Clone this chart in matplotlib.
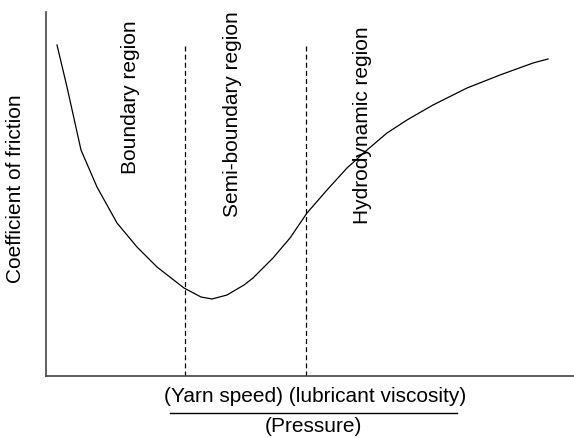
import matplotlib.pyplot as plt

plt.rcParams['font.family'] = ['Liberation Sans', 'DejaVu Sans']

# Stribeck-type friction curve (arbitrary units)
curve_x = [11, 21, 35, 51, 71, 91, 111, 138, 155, 166, 181, 198, 207,
           227, 244, 261, 281, 301, 321, 341, 361, 387, 421, 454, 487, 502]
curve_y = [331, 289, 226, 189, 153, 129, 109, 88, 79, 77, 81, 91, 98,
           118, 138, 163, 186, 208, 226, 243, 256, 271, 288, 301, 313, 317]

boundaries = [139, 260]
region_labels = ["Boundary region", "Semi-boundary region", "Hydrodynamic region"]
label_x = [84, 187, 316]
label_top = [356, 365, 350]

fig = plt.figure(figsize=(5.74, 4.38), dpi=100)
ax = fig.add_axes([46 / 574, 62 / 438, 1 - 46 / 574, (376 - 12) / 438])
ax.set_xlim(0, 528)
ax.set_ylim(0, 364)

ax.plot(curve_x, curve_y, color='black', lw=0.9, solid_joinstyle='round')
for b in boundaries:
    ax.plot([b, b], [0, 332], color='black', lw=0.9, ls=(0, (4, 2.5)))

for txt, x, y in zip(region_labels, label_x, label_top):
    ax.text(x, y, txt, rotation=90, ha='center', va='top', fontsize=15)

for side in ['top', 'right']:
    ax.spines[side].set_visible(False)
for side in ['left', 'bottom']:
    ax.spines[side].set_color('#444444')
    ax.spines[side].set_linewidth(1.2)
ax.set_xticks([])
ax.set_yticks([])

fig.text(16 / 574, 1 - 189 / 438, "Coefficient of friction", rotation=90,
         ha='center', va='center', fontsize=15)

# fraction-style x label
fig.text(315 / 574, 1 - 396 / 438, "(Yarn speed) (lubricant viscosity)",
         ha='center', va='center', fontsize=15)
fig.add_artist(plt.Line2D([170 / 574, 457 / 574], [1 - 413 / 438, 1 - 413 / 438],
                          color='black', lw=1.0))
fig.text(313 / 574, 1 - 426 / 438, "(Pressure)", ha='center', va='center', fontsize=15)

fig.savefig("out.png", dpi=100)
